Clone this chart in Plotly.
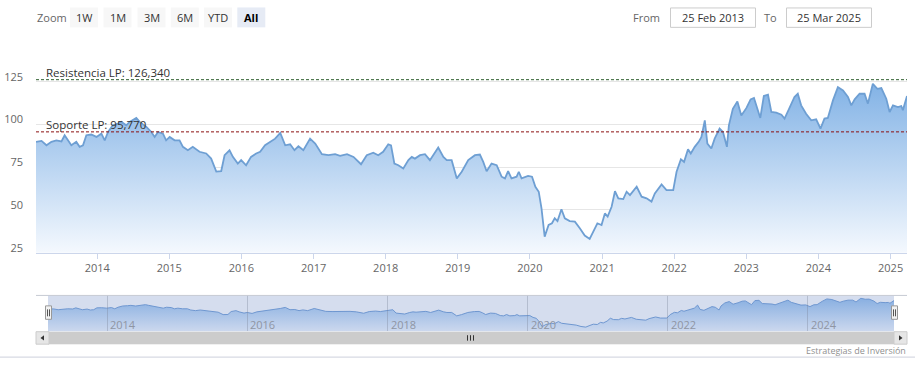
import plotly.graph_objects as go

# ---------------- data ----------------
dates = [
    "2013-02-25", "2013-03-25", "2013-04-19", "2013-05-14", "2013-06-08", "2013-07-04", "2013-07-20", "2013-08-06",
    "2013-08-23", "2013-09-17", "2013-10-04", "2013-10-21", "2013-11-07", "2013-12-02", "2013-12-28",
    "2014-01-22", "2014-02-08", "2014-02-25", "2014-03-21", "2014-04-16", "2014-05-03", "2014-05-28", "2014-06-14",
    "2014-07-18", "2014-08-04", "2014-09-07", "2014-10-02", "2014-10-19", "2014-11-05", "2014-11-30", "2014-12-16",
    "2015-01-03", "2015-01-28", "2015-02-22", "2015-03-11", "2015-04-05", "2015-04-30", "2015-06-03", "2015-07-07",
    "2015-08-01", "2015-08-27", "2015-09-21", "2015-10-08", "2015-11-02", "2015-11-19", "2015-12-14", "2015-12-31",
    "2016-01-25", "2016-02-19", "2016-03-16", "2016-04-05", "2016-04-30", "2016-05-26", "2016-06-20", "2016-07-16",
    "2016-08-10", "2016-09-04", "2016-09-26", "2016-10-16", "2016-11-10", "2016-12-14",
    "2017-01-09", "2017-02-12", "2017-03-17", "2017-04-20", "2017-05-15", "2017-06-19", "2017-07-22", "2017-08-29",
    "2017-09-27", "2017-10-30", "2017-11-24", "2017-12-19",
    "2018-01-14", "2018-01-28", "2018-02-14", "2018-03-06", "2018-03-31", "2018-04-26", "2018-05-13", "2018-05-29",
    "2018-06-24", "2018-07-19", "2018-08-13", "2018-09-24", "2018-10-20", "2018-11-06", "2018-12-01", "2018-12-27",
    "2019-01-21", "2019-02-23", "2019-03-29", "2019-04-23", "2019-05-10", "2019-05-27", "2019-06-21", "2019-07-17",
    "2019-08-11", "2019-08-28", "2019-09-13", "2019-09-30", "2019-10-26", "2019-11-06", "2019-11-20", "2019-12-23",
    "2020-01-12", "2020-01-29", "2020-02-15", "2020-02-29", "2020-03-16", "2020-04-05", "2020-04-22", "2020-05-06",
    "2020-05-20", "2020-06-09", "2020-06-26", "2020-07-21", "2020-08-16", "2020-09-10", "2020-10-05", "2020-10-30",
    "2020-11-16", "2020-12-08", "2020-12-29",
    "2021-01-15", "2021-01-29", "2021-02-18", "2021-03-07", "2021-03-24", "2021-04-18", "2021-05-05", "2021-05-22",
    "2021-06-25", "2021-07-20", "2021-08-14", "2021-09-08", "2021-09-25", "2021-10-29", "2021-11-23", "2021-12-27",
    "2022-01-13", "2022-02-04", "2022-02-20", "2022-03-12", "2022-03-26", "2022-04-15", "2022-05-05", "2022-05-19",
    "2022-06-05", "2022-06-18", "2022-07-08", "2022-07-25", "2022-08-19", "2022-09-05", "2022-09-25", "2022-10-05",
    "2022-10-25", "2022-11-17", "2022-12-07",
    "2023-01-02", "2023-01-23", "2023-02-09", "2023-02-21", "2023-03-13", "2023-03-31", "2023-04-21", "2023-05-08",
    "2023-06-02", "2023-06-28", "2023-07-14", "2023-08-08", "2023-09-02", "2023-09-19", "2023-10-06", "2023-10-31",
    "2023-11-26", "2023-12-21",
    "2024-01-12", "2024-02-01", "2024-02-18", "2024-03-15", "2024-04-09", "2024-05-05", "2024-05-30", "2024-06-16",
    "2024-07-03", "2024-07-28", "2024-08-22", "2024-09-08", "2024-10-03", "2024-10-26", "2024-11-15", "2024-12-10",
    "2024-12-27",
    "2025-01-13", "2025-02-07", "2025-02-24", "2025-03-04", "2025-03-25",
]

values = [
    89.9, 90.5, 87.9, 89.9, 90.8, 90.2, 93.8, 90.8, 87.9, 89.9, 87.0, 87.9, 93.8, 94.2, 92.8,
    94.7, 90.8, 95.7, 99.6, 100.6, 101.6, 99.6, 101.6, 103.9, 101.6, 98.7, 95.7, 92.8, 95.7, 94.7, 90.8,
    92.8, 90.8, 90.8, 87.0, 85.0, 87.0, 84.1, 83.1, 80.1, 72.5, 72.8, 82.1, 85.0, 81.1, 77.2, 79.2,
    76.2, 81.1, 83.1, 84.1, 87.9, 89.9, 91.8, 95.2, 87.9, 88.5, 85.0, 87.3, 85.0, 91.8,
    88.9, 82.7, 82.1, 82.7, 81.7, 82.7, 81.1, 76.8, 82.1, 83.6, 82.1, 84.1,
    88.5, 87.9, 77.2, 76.2, 74.3, 79.2, 81.1, 80.1, 82.1, 82.7, 79.2, 86.6, 81.1, 79.2, 79.2, 68.5,
    72.4, 79.2, 82.1, 82.5, 78.2, 72.7, 77.2, 76.2, 69.5, 68.5, 72.7, 68.5, 69.5, 72.4, 68.5, 70.0,
    69.5, 63.6, 60.7, 50.9, 34.4, 41.2, 42.2, 45.1, 43.5, 50.4, 45.1, 43.5, 43.2, 39.3, 35.0, 33.0, 37.3, 42.2, 41.2,
    48.0, 46.1, 51.9, 61.0, 56.8, 56.4, 60.7, 58.7, 63.6, 57.8, 56.8, 54.9, 59.7, 65.0, 61.6, 61.6,
    72.4, 79.7, 78.2, 85.6, 83.1, 87.0, 89.9, 92.8, 102.5, 88.9, 86.0, 91.8, 97.7, 95.7, 87.0, 99.6, 109.3, 113.6, 105.4,
    109.8, 114.8, 115.6, 111.3, 103.9, 116.8, 117.5, 107.4, 107.0, 105.8, 103.5, 109.8, 116.2, 118.1, 111.3, 106.4,
    102.5, 103.1,
    97.7, 103.5, 103.9, 114.2, 122.0, 120.0, 116.2, 111.3, 114.8, 118.1, 118.1, 112.3, 123.9, 121.0, 121.4, 115.2, 107.4,
    111.3, 110.3, 110.9, 108.4, 116.8,
]

resistencia = 126.340
soporte = 95.770

y_tick_values = [25, 50, 75, 100, 125, 150]
y_tick_labels = ["25", "50", "75", "100", "125", ""]
x_tick_years = list(range(2014, 2026))
nav_tick_years = list(range(2014, 2025, 2))

zoom_buttons = ["1W", "1M", "3M", "6M", "YTD", "All"]
date_from = "25 Feb 2013"
date_to = "25 Mar 2025"
credit = "Estrategias de Inversión"

# ---------------- layout helpers ----------------
W, H = 915, 377
FONT = "Open Sans"


def fx(px):
    return px / W


def fy(py):
    return 1 - py / H


def fmt(v):
    return f"{v:,.3f}".replace(",", "X").replace(".", ",").replace("X", ".")


fig = go.Figure()

fig.add_trace(go.Scatter(
    x=dates, y=values, mode="lines",
    line=dict(color="#6e9fd3", width=1.8),
    fill="tozeroy",
    fillgradient=dict(type="vertical", start=25, stop=126,
                      colorscale=[[0, "#f5f9fe"], [1, "#80b1e5"]]),
    xaxis="x", yaxis="y", hoverinfo="skip",
))

fig.add_trace(go.Scatter(
    x=dates, y=values, mode="lines",
    line=dict(color="#6f97d0", width=1),
    fill="tozeroy",
    fillgradient=dict(type="vertical", start=20, stop=125,
                      colorscale=[[0, "#ccd8ee"], [1, "#88afe1"]]),
    xaxis="x2", yaxis="y2", hoverinfo="skip",
))

shapes = []
annotations = []

# support / resistance lines and their labels
shapes.append(dict(type="line", xref="x domain", x0=0, x1=1, yref="y", y0=resistencia, y1=resistencia,
                   line=dict(color="#2f5f2f", width=1, dash="3px,2px")))
shapes.append(dict(type="line", xref="x domain", x0=0, x1=1, yref="y", y0=soporte, y1=soporte,
                   line=dict(color="#8b1010", width=1, dash="3px,2px")))
annotations.append(dict(xref="paper", x=fx(44), xanchor="left", yref="y", y=resistencia, yanchor="bottom",
                        text=f"Resistencia LP: {fmt(resistencia)}", showarrow=False, yshift=-2,
                        font=dict(family=FONT, size=11.5, color="#333")))
annotations.append(dict(xref="paper", x=fx(44), xanchor="left", yref="y", y=soporte, yanchor="bottom",
                        text=f"Soporte LP: {fmt(soporte)}", showarrow=False, yshift=-2,
                        font=dict(family=FONT, size=11.5, color="#333")))

# navigator background, outline and labels
shapes.append(dict(type="rect", xref="paper", yref="paper", x0=fx(48), x1=fx(894), y0=fy(333), y1=fy(297),
                   fillcolor="#d5ddee", line=dict(width=0), layer="below"))
shapes.append(dict(type="line", xref="paper", yref="paper", x0=fx(36), x1=fx(907), y0=fy(297), y1=fy(297),
                   line=dict(color="#c6cad3", width=1)))
for yr in nav_tick_years:
    annotations.append(dict(xref="x2", x=f"{yr}-01-01", xanchor="left", xshift=1, yref="paper", y=fy(326),
                            yanchor="middle", text=str(yr), showarrow=False,
                            font=dict(family=FONT, size=11, color="#8f95a3")))

# navigator handles
for hx in (45.5, 891.5):
    shapes.append(dict(type="rect", xref="paper", yref="paper", x0=fx(hx), x1=fx(hx + 6), y0=fy(321), y1=fy(307.5),
                       fillcolor="#f2f2f2", line=dict(color="#999999", width=1)))
    for lx in (hx + 2, hx + 4):
        shapes.append(dict(type="line", xref="paper", yref="paper", x0=fx(lx), x1=fx(lx), y0=fy(318), y1=fy(311),
                           line=dict(color="#555", width=1)))

# scrollbar
shapes.append(dict(type="rect", xref="paper", yref="paper", x0=fx(36), x1=fx(907), y0=fy(346), y1=fy(333.5),
                   fillcolor="#f2f2f2", line=dict(width=0)))
shapes.append(dict(type="rect", xref="paper", yref="paper", x0=fx(48), x1=fx(894), y0=fy(346), y1=fy(333.5),
                   fillcolor="#cccccc", line=dict(width=0)))
for bx in (36, 894):
    shapes.append(dict(type="rect", xref="paper", yref="paper", x0=fx(bx), x1=fx(bx + 13), y0=fy(346),
                       y1=fy(333.5), fillcolor="#e6e6e6", line=dict(color="#cccccc", width=1)))
shapes.append(dict(type="path", xref="paper", yref="paper",
                   path=f"M {fx(44)},{fy(337)} L {fx(40.5)},{fy(339.7)} L {fx(44)},{fy(342.4)} Z",
                   fillcolor="#333", line=dict(width=0)))
shapes.append(dict(type="path", xref="paper", yref="paper",
                   path=f"M {fx(899)},{fy(337)} L {fx(902.5)},{fy(339.7)} L {fx(899)},{fy(342.4)} Z",
                   fillcolor="#333", line=dict(width=0)))
for rx in (467.5, 470.5, 473.5):
    shapes.append(dict(type="line", xref="paper", yref="paper", x0=fx(rx), x1=fx(rx), y0=fy(342.5), y1=fy(337),
                       line=dict(color="#333", width=1)))

# bottom separator + credit
shapes.append(dict(type="line", xref="paper", yref="paper", x0=0, x1=1, y0=fy(359), y1=fy(359),
                   line=dict(color="#cdd1dc", width=1)))
annotations.append(dict(xref="paper", x=fx(908), xanchor="right", yref="paper", y=fy(352), yanchor="middle",
                        text=credit, showarrow=False, font=dict(family=FONT, size=9, color="#909090")))

# range selector (top left)
annotations.append(dict(xref="paper", x=fx(35), xanchor="left", yref="paper", y=fy(17.5), yanchor="middle",
                        text="Zoom", showarrow=False, font=dict(family=FONT, size=11, color="#666")))
btn_x = [70, 103.5, 137.5, 170.8, 204, 237.3]
for label, bx in zip(zoom_buttons, btn_x):
    active = label == "All"
    shapes.append(dict(type="rect", xref="paper", yref="paper", x0=fx(bx), x1=fx(bx + 28), y0=fy(27.5),
                       y1=fy(7.5), fillcolor="#e6ebf5" if active else "#f7f7f7", line=dict(width=0),
                       layer="below"))
    annotations.append(dict(xref="paper", x=fx(bx + 14), xanchor="center", yref="paper", y=fy(17.5),
                            yanchor="middle", text=f"<b>{label}</b>" if active else label, showarrow=False,
                            font=dict(family=FONT, size=11, color="#000" if active else "#333")))

# date inputs (top right)
annotations.append(dict(xref="paper", x=fx(662), xanchor="right", yref="paper", y=fy(17.5), yanchor="middle",
                        text="From", showarrow=False, font=dict(family=FONT, size=11, color="#666")))
annotations.append(dict(xref="paper", x=fx(779), xanchor="right", yref="paper", y=fy(17.5), yanchor="middle",
                        text="To", showarrow=False, font=dict(family=FONT, size=11, color="#666")))
for (x0, x1), txt in (((670.5, 755.5), date_from), ((786.5, 871.5), date_to)):
    shapes.append(dict(type="rect", xref="paper", yref="paper", x0=fx(x0), x1=fx(x1), y0=fy(27.5), y1=fy(8),
                       fillcolor="white", line=dict(color="#cccccc", width=1)))
    annotations.append(dict(xref="paper", x=fx((x0 + x1) / 2), xanchor="center", yref="paper", y=fy(17.5),
                            yanchor="middle", text=txt, showarrow=False,
                            font=dict(family=FONT, size=11, color="#333")))

fig.update_layout(
    width=W, height=H, autosize=False,
    margin=dict(l=0, r=0, t=0, b=0),
    paper_bgcolor="white", plot_bgcolor="white",
    showlegend=False,
    shapes=shapes, annotations=annotations,
    xaxis=dict(
        domain=[fx(36), fx(907)], anchor="y", type="date",
        range=[dates[0], dates[-1]],
        tickvals=[f"{y}-01-01" for y in x_tick_years], ticktext=[str(y) for y in x_tick_years],
        ticks="outside", ticklen=5, tickcolor="#ccd6eb",
        showline=True, linecolor="#ccd6eb", linewidth=1,
        showgrid=False, zeroline=False, fixedrange=True,
        tickfont=dict(family=FONT, size=11, color="#666"),
    ),
    yaxis=dict(
        domain=[fy(254), fy(39.5)], anchor="x",
        range=[25, 150],
        tickvals=y_tick_values, ticktext=y_tick_labels,
        showgrid=True, gridcolor="#e6e6e6", gridwidth=1,
        zeroline=False, showline=False, ticks="",
        ticklabelshift=-5, ticklabelstandoff=12, fixedrange=True,
        tickfont=dict(family=FONT, size=11, color="#666"),
    ),
    xaxis2=dict(
        domain=[fx(48), fx(894)], anchor="y2", type="date",
        range=[dates[0], dates[-1]],
        tickvals=[f"{y}-01-01" for y in nav_tick_years],
        showticklabels=False, ticks="inside", ticklen=36, tickcolor="rgba(120,130,150,0.35)",
        showline=False, showgrid=False, zeroline=False, layer="above traces", fixedrange=True,
    ),
    yaxis2=dict(
        domain=[fy(333), fy(297)], anchor="x2", range=[20, 133],
        visible=False, fixedrange=True,
    ),
)

fig.write_html(
    "out.html",
    config={"displayModeBar": False},
    post_script="document.documentElement.style.margin='0';document.body.style.margin='0';",
)
